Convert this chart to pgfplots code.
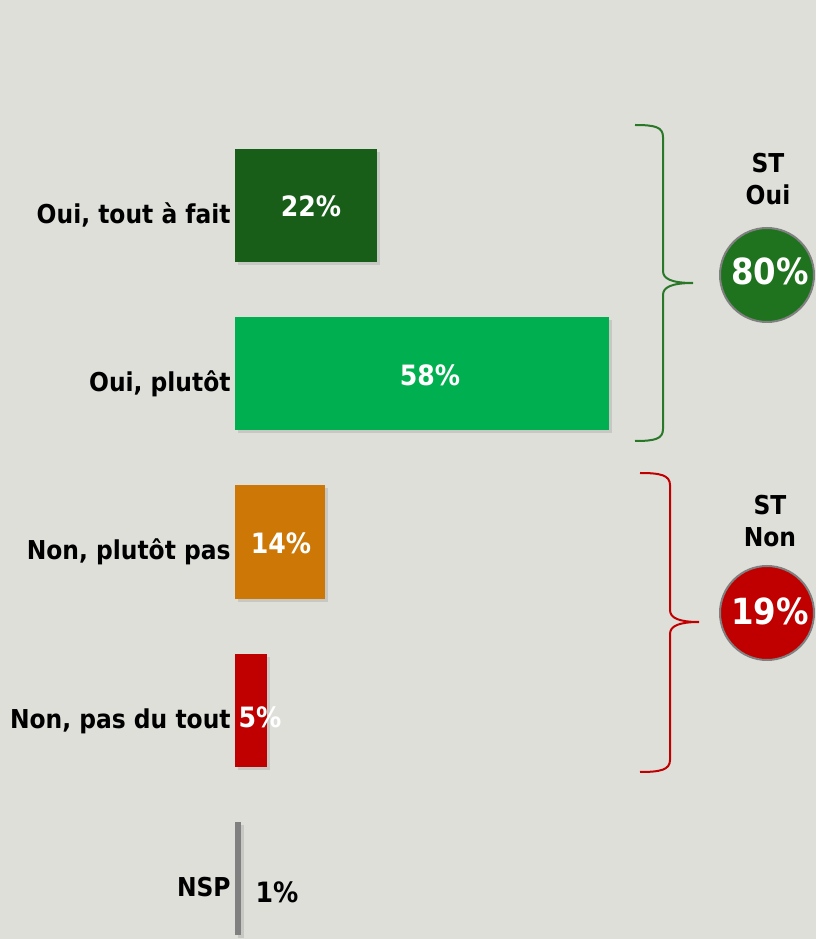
\documentclass[border=0pt]{standalone}
\usepackage{pgfplots}
\pgfplotsset{compat=1.18}
\usepackage{fontspec}
\setmainfont{DejaVu Sans Condensed}
\usetikzlibrary{shadows}
\definecolor{bg}{RGB}{223,223,218}
\definecolor{dkgreen}{RGB}{24,94,24}
\definecolor{brgreen}{RGB}{0,176,80}
\definecolor{barorange}{RGB}{204,119,6}
\definecolor{barred}{RGB}{192,0,0}
\definecolor{bargray}{RGB}{128,128,128}
\definecolor{circgreen}{RGB}{31,115,31}
\definecolor{bracegreen}{RGB}{40,120,40}
\begin{document}
\begin{tikzpicture}[x=0.5pt,y=0.5pt]
\path[use as bounding box, fill=bg] (0,0) rectangle (816,939);
\begin{axis}[
  at={(117.5pt,0pt)}, anchor=south west,
  scale only axis, width=290.5pt, height=469.5pt,
  xbar, bar shift=0pt, bar width=0.672,
  xmin=0, xmax=90.08, ymin=-0.3596, ymax=5.2214,
  axis line style={draw=none}, xtick=\empty,
  ytick={0,1,2,3,4},
  yticklabels={{NSP},{Non, pas du tout},{Non, plutôt pas},{Oui, plutôt},{Oui, tout à fait}},
  major tick length=0pt,
  yticklabel style={anchor=base east, inner sep=0pt, xshift=-2pt, yshift=-9pt,
    font=\fontsize{13}{15}\selectfont\bfseries},
  clip=false,
  every axis plot/.append style={draw=none, drop shadow={shadow xshift=1.5pt, shadow yshift=-1.5pt, opacity=0.25}},
]
\addplot[fill=dkgreen] coordinates {(22,4)};
\addplot[fill=brgreen] coordinates {(58,3)};
\addplot[fill=barorange] coordinates {(14,2)};
\addplot[fill=barred] coordinates {(5,1)};
\addplot[fill=bargray] coordinates {(1,0)};
\end{axis}
% value labels
\begin{scope}[every node/.style={anchor=base, inner sep=0pt, font=\fontsize{14}{16}\selectfont\bfseries}]
\node[text=white] at (311,722) {22\%};
\node[text=white] at (430,553) {58\%};
\node[text=white] at (281,385) {14\%};
\node[text=white] at (260,211) {5\%};
\node[text=black] at (277,37) {1\%};
\end{scope}
% braces
\draw[bracegreen, line width=1pt] (635,814) .. controls (655,814) and (663,812) .. (663,802) -- (663,668) .. controls (663,660) and (672,656) .. (693,656) .. controls (672,656) and (663,652) .. (663,644) -- (663,510) .. controls (663,500) and (655,498) .. (635,498);
\draw[barred, line width=1pt] (640,466) .. controls (660,466) and (670,464) .. (670,454) -- (670,329) .. controls (670,321) and (679,317) .. (699,317) .. controls (679,317) and (670,313) .. (670,305) -- (670,179) .. controls (670,169) and (660,167) .. (640,167);
% ST labels and circles
\begin{scope}[every node/.style={anchor=base, inner sep=0pt, font=\fontsize{13}{15}\selectfont\bfseries}]
\node at (768,766) {ST};
\node at (768,734) {Oui};
\node at (770,424) {ST};
\node at (770,392) {Non};
\end{scope}
\draw[fill=circgreen, draw=gray, line width=1pt] (767,664) circle[radius=47];
\draw[fill=barred, draw=gray, line width=1pt] (767,326) circle[radius=47];
\node[anchor=base, inner sep=0pt, text=white, font=\fontsize{18}{20}\selectfont\bfseries] at (770,654) {80\%};
\node[anchor=base, inner sep=0pt, text=white, font=\fontsize{18}{20}\selectfont\bfseries] at (770,314) {19\%};
\end{tikzpicture}
\end{document}
